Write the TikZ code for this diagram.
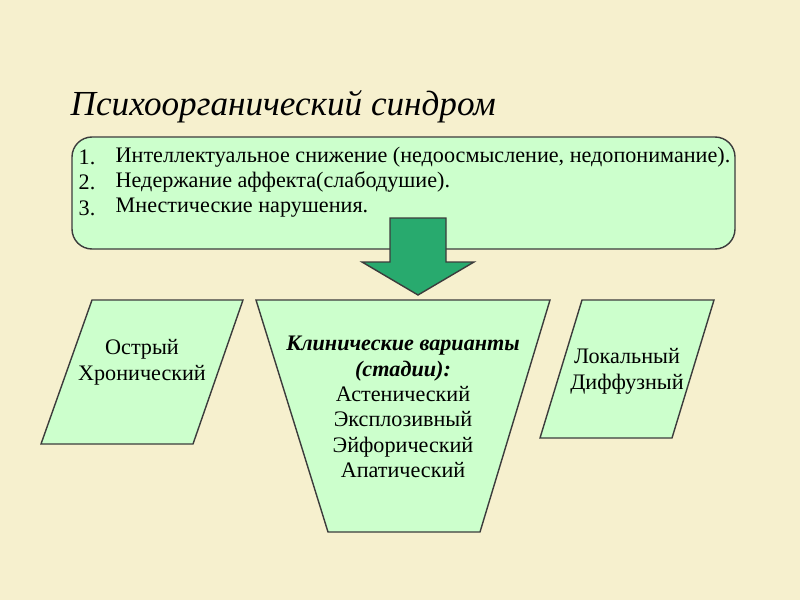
\documentclass[tikz,border=0pt]{standalone}
\usepackage{fontspec}
\setmainfont{Liberation Serif}
\usepackage{xcolor}
\definecolor{paper}{RGB}{246,240,206}
\definecolor{mint}{RGB}{204,255,204}
\definecolor{arrowgreen}{RGB}{40,170,110}
\definecolor{edge}{RGB}{60,60,60}

\begin{document}
\begin{tikzpicture}[x=0.01cm, y=-0.01cm,
	box/.style={draw=edge, fill=mint, line width=0.4pt},
	txt/.style={font=\fontsize{6.3}{7.2}\selectfont, align=center, inner sep=0pt},
	item/.style={anchor=west, inner sep=0pt, font=\fontsize{6.3}{7.2}\selectfont}]
	\fill[paper] (0,0) rectangle (800,600);
	\useasboundingbox (0,0) rectangle (800,600);

	\node[anchor=west, inner sep=0pt, font=\fontsize{10}{12}\itshape] (title) at (70,107) {Психоорганический синдром};

	% list box
	\draw[box, rounded corners=0.2cm] (72,137) rectangle (735,249);
	\node[item] (n1) at (78,157) {1.};
	\node[item] (n2) at (78,182) {2.};
	\node[item] (n3) at (78,208) {3.};
	\node[item] (l1) at (115,157) {Интеллектуальное снижение (недоосмысление, недопонимание).};
	\node[item] (l2) at (115,182) {Недержание аффекта(слабодушие).};
	\node[item] (l3) at (115,208) {Мнестические нарушения.};

	% arrow
	\draw[fill=arrowgreen, draw=edge] (390,218) -- (446,218) -- (446,262) -- (474,262)
		-- (418,295) -- (362,262) -- (390,262) -- cycle;

	% shapes
	\draw[box] (92,300) -- (243,300) -- (193,444) -- (41,444) -- cycle;
	\draw[box] (256,300) -- (550,300) -- (480,532) -- (328,532) -- cycle;
	\draw[box] (582,300) -- (714,300) -- (672,438) -- (540,438) -- cycle;

	\node[txt] (acute) at (142,362) {Острый\\[0.3pt]Хронический};
	\node[txt] (local) at (627,371) {Локальный\\[0.3pt]Диффузный};
	\node[txt] (clin) at (403,407)
		{\textbf{\textit{Клинические варианты}}\\\textbf{\textit{(стадии):}}\\Астенический\\Эксплозивный\\Эйфорический\\Апатический};
\end{tikzpicture}
\end{document}
